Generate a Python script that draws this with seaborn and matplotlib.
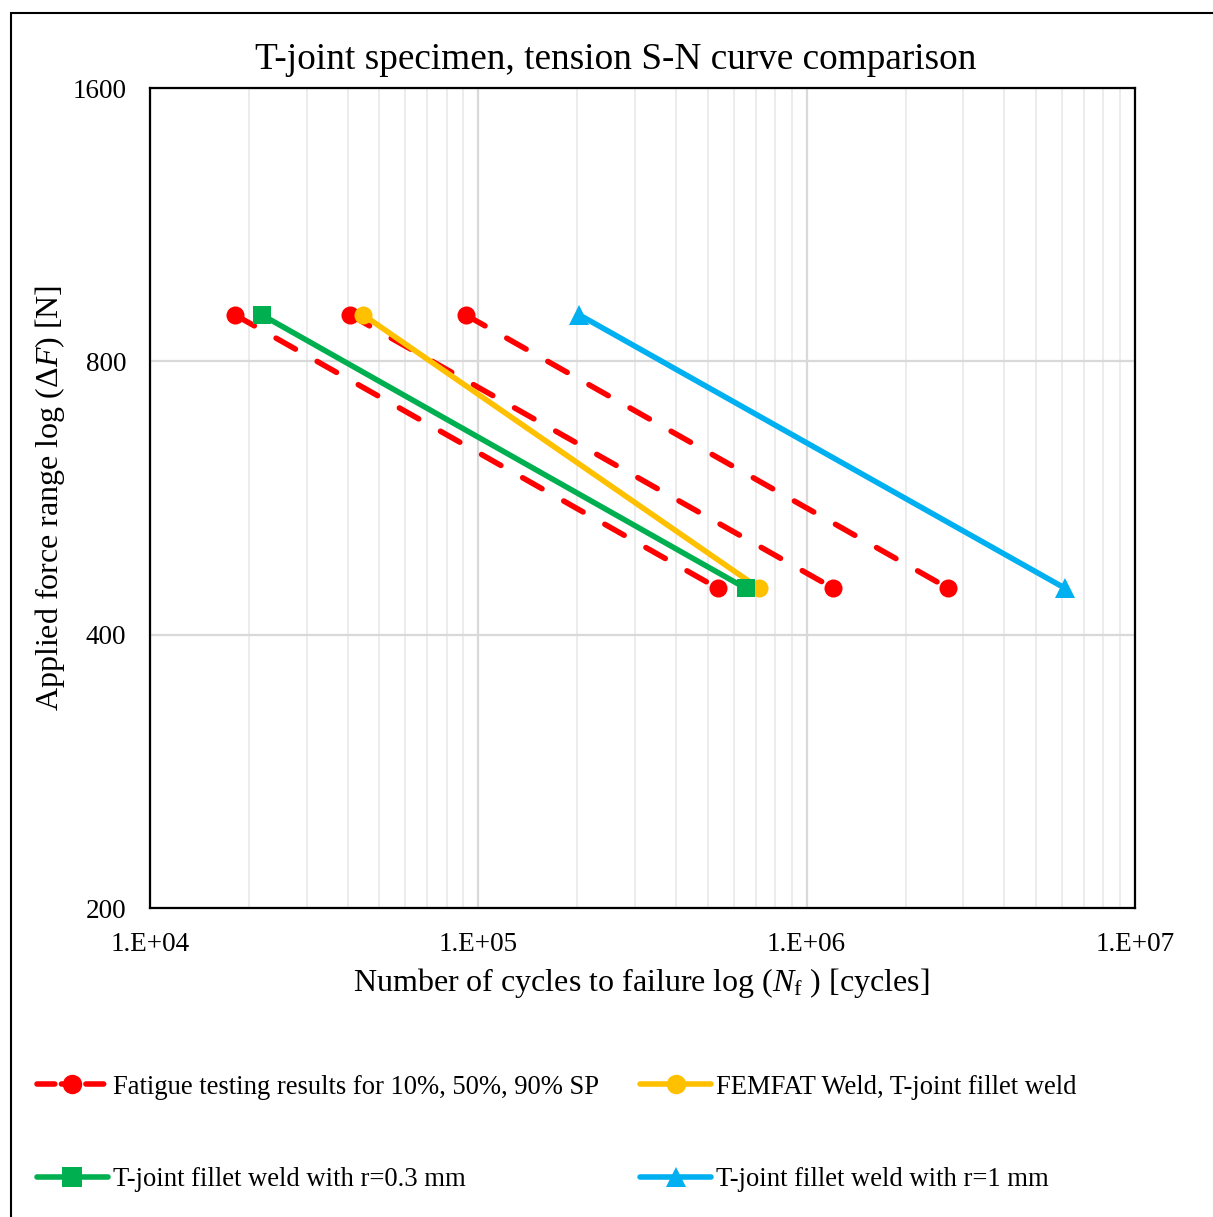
import numpy as np
import pandas as pd
import matplotlib
matplotlib.use("Agg")
import matplotlib.pyplot as plt
import matplotlib.ticker as mticker
from matplotlib.patches import Rectangle
from matplotlib.lines import Line2D
import seaborn as sns

sns.set_style("white")
plt.rcParams['font.family'] = ['Liberation Serif', 'DejaVu Serif']
plt.rcParams['mathtext.fontset'] = 'custom'
plt.rcParams['mathtext.rm'] = 'Liberation Serif'
plt.rcParams['mathtext.it'] = 'Liberation Serif:italic'
plt.rcParams['text.color'] = 'black'
plt.rcParams['xtick.color'] = 'black'
plt.rcParams['ytick.color'] = 'black'

# data
force_levels = [900, 450]
test_cycles_top = [1.815e4, 4.07e4, 9.15e4]       # 10%, 50%, 90% SP at 900 N
test_cycles_bottom = [5.36e5, 1.206e6, 2.70e6]    # 10%, 50%, 90% SP at 450 N
femfat_cycles = [4.46e4, 7.16e5]
r03_cycles = [2.19e4, 6.52e5]
r1_cycles = [2.03e5, 6.12e6]

series_labels = ["Fatigue testing results for 10%, 50%, 90% SP",
                 "FEMFAT Weld, T-joint fillet weld",
                 "T-joint fillet weld with r=0.3 mm",
                 "T-joint fillet weld with r=1 mm"]
x_ticks = [1e4, 1e5, 1e6, 1e7]
x_tick_labels = ["1.E+04", "1.E+05", "1.E+06", "1.E+07"]
y_ticks = [200, 400, 800, 1600]

red = "#FF0000"
yellow = "#FFC000"
green = "#00B050"
blue = "#00B0F0"

W, H = 1213, 1217
fig = plt.figure(figsize=(W / 100, H / 100), dpi=100)
ax = fig.add_axes([150 / W, 1 - 908 / H, (1135 - 150) / W, (908 - 88) / H])

df_test = pd.DataFrame({
    "cycles": test_cycles_top + test_cycles_bottom,
    "force": [force_levels[0]] * 3 + [force_levels[1]] * 3,
    "sp": [10, 50, 90] * 2,
})
df_femfat = pd.DataFrame({"cycles": femfat_cycles, "force": force_levels})
df_r03 = pd.DataFrame({"cycles": r03_cycles, "force": force_levels})
df_r1 = pd.DataFrame({"cycles": r1_cycles, "force": force_levels})

lw = 4.0
sns.lineplot(data=df_test, x="cycles", y="force", units="sp", estimator=None,
             color=red, lw=lw, marker="o", markersize=13, markeredgewidth=0,
             linestyle=(0, (4, 4.5)), dash_capstyle="round", ax=ax, zorder=3)
sns.lineplot(data=df_femfat, x="cycles", y="force", estimator=None, color=yellow,
             lw=lw, marker="o", markersize=13, markeredgewidth=0, ax=ax, zorder=4)
sns.lineplot(data=df_r03, x="cycles", y="force", estimator=None, color=green,
             lw=lw, marker="s", markersize=13, markeredgewidth=0, ax=ax, zorder=5)
sns.lineplot(data=df_r1, x="cycles", y="force", estimator=None, color=blue,
             lw=lw, marker="^", markersize=14, markeredgewidth=0, ax=ax, zorder=6)

ax.set_xscale("log")
ax.set_yscale("log", base=2)
ax.set_xlim(1e4, 1e7)
ax.set_ylim(200, 1600)
ax.set_xticks(x_ticks)
ax.set_xticklabels(x_tick_labels)
ax.xaxis.set_minor_locator(mticker.LogLocator(base=10, subs=np.arange(2, 10)))
ax.xaxis.set_minor_formatter(mticker.NullFormatter())
ax.set_yticks(y_ticks)
ax.set_yticklabels([str(v) for v in y_ticks])
ax.yaxis.set_minor_locator(mticker.NullLocator())
ax.tick_params(axis="both", which="both", length=0, labelsize=19.5)
ax.tick_params(axis="x", pad=17)
ax.tick_params(axis="y", pad=17)

ax.grid(True, which="major", axis="both", color="#D9D9D9", lw=1.6)
ax.grid(True, which="minor", axis="x", color="#EBEBEB", lw=1.3)
ax.set_axisbelow(True)
for s in ax.spines.values():
    s.set_color("black")
    s.set_linewidth(1.6)

ax.set_xlabel("")
ax.set_ylabel("")
fig.text(641.5 / W, 1 - 983 / H,
         r"Number of cycles to failure log ($N_\mathrm{f}$ ) [cycles]",
         ha="center", va="center", fontsize=23)
fig.text(50 / W, 1 - 498 / H, r"Applied force range log ($\Delta F$) [N]",
         ha="center", va="center", rotation=90, fontsize=23)
fig.text(616 / W, 1 - 60 / H, "T-joint specimen, tension S-N curve comparison",
         ha="center", va="center", fontsize=26.8)

# legend: red, green in first column; yellow, blue in second
leg_handles = [
    Line2D([], [], color=red, lw=lw, marker="o", markersize=14, markeredgewidth=0,
           linestyle=(0, (3.2, 1.2)), dash_capstyle="round"),
    Line2D([], [], color=green, lw=lw, marker="s", markersize=14, markeredgewidth=0),
    Line2D([], [], color=yellow, lw=lw, marker="o", markersize=14, markeredgewidth=0),
    Line2D([], [], color=blue, lw=lw, marker="^", markersize=14, markeredgewidth=0),
]
leg_labels = [series_labels[0], series_labels[2], series_labels[1], series_labels[3]]
fig.legend(leg_handles, leg_labels, ncol=2, loc="center left",
           bbox_to_anchor=(37 / W, 1 - 1133.5 / H), frameon=False, fontsize=19.2,
           handlelength=2.65, handletextpad=0.2, columnspacing=1.55,
           labelspacing=2.53, borderpad=0, borderaxespad=0, numpoints=1)

fig.patches.append(Rectangle((11 / W, -0.1), 1.2, 1 - 13 / H + 0.1,
                             transform=fig.transFigure, fill=False,
                             edgecolor="black", lw=1.5))

fig.savefig("out.png", dpi=100)
